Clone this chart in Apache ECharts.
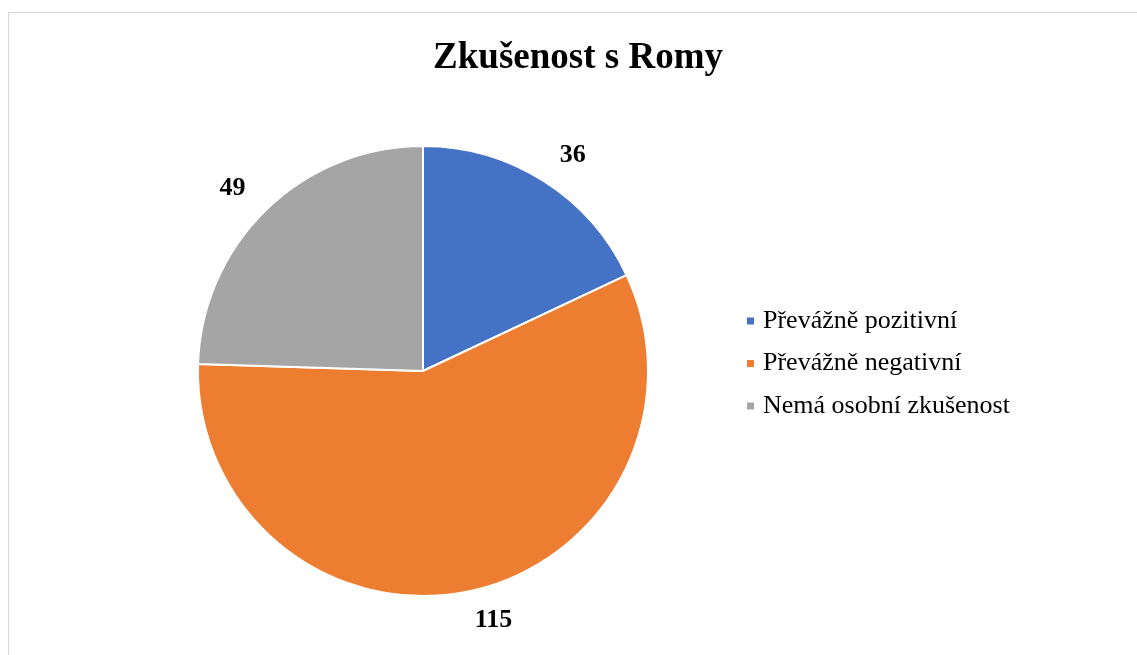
<!DOCTYPE html>
<html>
<head>
<meta charset="utf-8">
<script src="https://cdn.jsdelivr.net/npm/echarts@6/dist/echarts.min.js"></script>
<style>
  html, body { margin: 0; padding: 0; background: #fff; }
  #frame { position: absolute; left: 8px; top: 12px; width: 1300px; height: 800px; border: 1.5px solid #d6d6d6; box-sizing: border-box; }
  #chart { position: absolute; left: 0; top: 0; width: 1137px; height: 655px; }
</style>
</head>
<body>
<div id="frame"></div>
<div id="chart"></div>
<script>
const titleText = 'Zkušenost s Romy';
const categories = ['Převážně pozitivní', 'Převážně negativní', 'Nemá osobní zkušenost'];
const values = [36, 115, 49];
const colors = ['#4472C4', '#ED7D31', '#A5A5A5'];

const serif = "'Liberation Serif', 'Times New Roman', serif";
const chart = echarts.init(document.getElementById('chart'), null, { renderer: 'canvas' });
chart.setOption({
  backgroundColor: 'transparent',
  animation: false,
  title: {
    text: titleText,
    left: 573,
    textAlign: 'center',
    top: 35,
    textStyle: { fontFamily: serif, fontSize: 37, fontWeight: 'bold', color: '#000' }
  },
  legend: {
    orient: 'vertical',
    left: 740,
    top: 303,
    itemWidth: 9,
    itemHeight: 9,
    itemGap: 16.5,
    icon: 'rect',
    data: categories,
    textStyle: { fontFamily: serif, fontSize: 26, color: '#000', padding: [0, 0, 0, 3] }
  },
  series: [{
    type: 'pie',
    center: [423, 371],
    radius: 225,
    startAngle: 90,
    clockwise: true,
    avoidLabelOverlap: false,
    itemStyle: { borderColor: '#fff', borderWidth: 2 },
    label: {
      show: true,
      position: 'outside',
      formatter: '{c}',
      fontFamily: serif,
      fontSize: 26,
      fontWeight: 'bold',
      color: '#000',
      distanceToLabelLine: 0
    },
    labelLine: { show: false, length: 30, length2: 0 },
    emphasis: { disabled: true },
    data: categories.map((c, i) => ({ name: c, value: values[i], itemStyle: { color: colors[i] } }))
  }]
});
</script>
</body>
</html>
